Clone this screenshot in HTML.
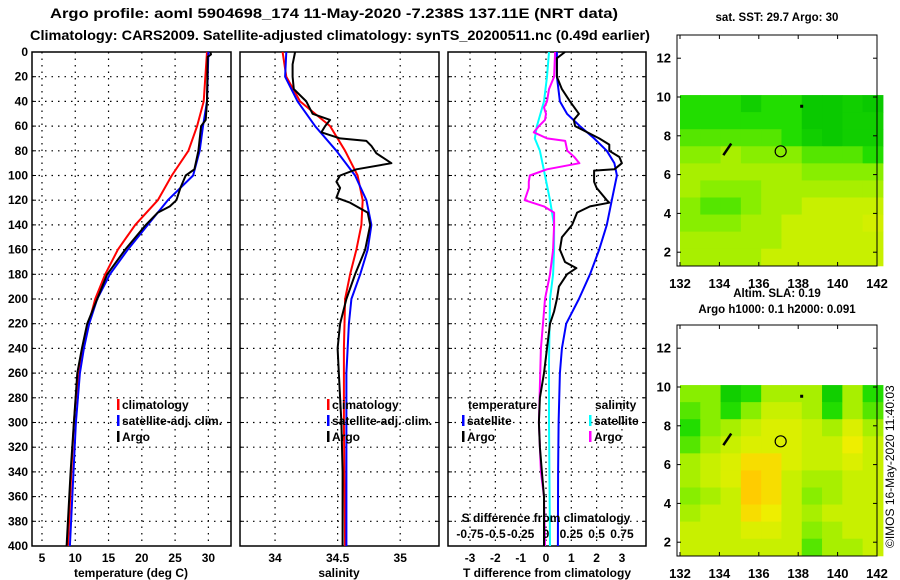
<!DOCTYPE html>
<html><head><meta charset="utf-8">
<style>
html,body{margin:0;padding:0;background:#fff;}
svg{display:block;font-family:"Liberation Sans",Arial,sans-serif;font-weight:bold;}
</style></head>
<body>
<svg id="chart" width="900" height="580" viewBox="0 0 900 580" xmlns="http://www.w3.org/2000/svg">
<text x="50" y="18" font-size="13.5" textLength="568" lengthAdjust="spacingAndGlyphs">Argo profile: aoml 5904698_174 11-May-2020 -7.238S 137.11E (NRT data)</text>
<text x="30" y="40" font-size="13.5" textLength="620" lengthAdjust="spacingAndGlyphs">Climatology: CARS2009. Satellite-adjusted climatology: synTS_20200511.nc (0.49d earlier)</text>
<g id="layer"></g>
<text x="0" y="0" font-size="12" font-weight="normal" transform="translate(894,548) rotate(-90)">©IMOS 16-May-2020 11:40:03</text>
</svg>
<script>
// ---------- profile data ----------
const tClimDepth=[0,40,60,80,100,120,140,160,180,200,220,240,260,280,300,340,400];
const tClimVal=[29.8,29.3,28.3,27,24.5,22.4,19,16.4,14.5,13,12,11.2,10.6,10.1,9.8,9.4,8.9];
const tSatDepth=[0,40,60,80,100,120,140,160,180,200,220,240,260,300,400];
const tSatVal=[30,29.8,29.2,28.7,27.7,23.9,20.9,17.9,15.2,13.3,12.1,11.3,10.7,10.1,9.2];
const tArgoDepth=[0,2,4,40,55,60,80,95,100,110,120,125,130,140,160,180,200,220,240,260,300,340,400];
const tArgoVal=[30.3,30.4,29.9,29.8,29.6,28.9,28.5,27.9,26.6,25.8,25.2,24.2,22.4,20.6,17.5,14.8,13.3,11.8,11,10.3,9.8,9.3,8.7];

const sClimDepth=[0,20,40,60,80,100,120,140,160,180,200,240,300,400];
const sClimVal=[34.06,34.09,34.2,34.44,34.56,34.66,34.7,34.69,34.65,34.6,34.56,34.55,34.55,34.56];
const sSatDepth=[0,20,40,60,80,100,120,140,160,180,200,220,260,300,400];
const sSatVal=[34.09,34.08,34.18,34.32,34.49,34.64,34.73,34.77,34.74,34.68,34.61,34.59,34.57,34.57,34.57];
const sArgoDepth=[0,10,20,30,40,50,55,60,65,70,72,76,82,90,95,100,105,110,118,122,130,140,160,180,200,220,240,280,300,340,400];
const sArgoVal=[34.16,34.14,34.14,34.15,34.25,34.3,34.44,34.4,34.37,34.52,34.73,34.77,34.81,34.93,34.65,34.52,34.49,34.52,34.49,34.6,34.74,34.76,34.72,34.64,34.57,34.52,34.5,34.52,34.53,34.54,34.54];

const dTSatDepth=[0,20,40,50,60,70,80,90,100,120,140,160,180,200,220,240,260,300,340,400];
const dTSatVal=[0.43,0.43,0.55,0.83,1.34,1.9,2.4,2.7,2.8,2.6,2.4,2.1,1.74,1.3,0.8,0.63,0.55,0.5,0.48,0.47];
const dTArgoDepth=[0,5,20,30,40,50,55,60,70,75,80,85,90,95,96,105,110,120,122,125,130,140,150,160,170,175,180,190,200,210,220,240,260,280,300,320,340,360,400];
const dTArgoVal=[0.75,0.43,0.43,0.63,0.95,1.3,1.1,1.15,2.1,2.5,2.5,2.9,3.0,2.7,1.9,1.9,2.0,2.4,2.5,1.74,1.23,1.03,0.63,0.55,0.75,1.2,0.83,0.51,0.43,0.32,0.16,0.04,-0.08,-0.24,-0.28,-0.24,-0.16,-0.08,-0.08];
const dSSatDepth=[0,20,40,60,70,80,100,120,140,160,180,200,250,300,400];
const dSSatVal=[0.03,0.01,-0.02,-0.09,-0.11,-0.06,-0.01,0.04,0.08,0.08,0.07,0.04,0.03,0.03,0.04];
const dSArgoDepth=[0,20,30,40,45,50,55,60,65,70,72,80,85,90,95,100,105,110,120,125,130,140,160,180,200,210,240,300,340,360,400];
const dSArgoVal=[0.09,0.08,0.03,0.01,-0.02,0,-0.01,-0.07,-0.12,0.01,0.19,0.21,0.28,0.33,0.01,-0.16,-0.17,-0.17,-0.21,-0.02,0.08,0.08,0.07,0.04,-0.01,-0.02,-0.05,-0.07,-0.05,-0.02,-0.01];

const depthTicks=[0,20,40,60,80,100,120,140,160,180,200,220,240,260,280,300,320,340,360,380,400];
const tTicks=[5,10,15,20,25,30];
const sTicks=[34,34.5,35];
const sTickLabels=["34","34.5","35"];
const dTTicks=[-3,-2,-1,0,1,2,3];
const dSTicks=[-0.75,-0.5,-0.25,0,0.25,0.5,0.75];
const dSTickLabels=["-0.75","-0.5","-0.25","0","0.25","0.5","0.75"];

// ---------- map data (values on a 0..5 colour scale) ----------
const sstGrid=[
[1,1,1,0.5,1,1,0.3,0.3,0.5,0.3],
[1,1,1,1,1,1,0.3,0.3,0.5,0.5],
[1.5,1.5,1.5,1.5,1.5,1,0.5,0.3,0.5,0.5],
[2,2,2.5,2,2,2,1.5,1.5,1.5,1],
[2.5,2.5,2.5,2.5,2.5,2.5,2,2,2,2],
[2.5,2,2,2,2.5,2.5,2.5,2.5,2.5,2.5],
[2,1.5,1.5,2,2.5,2.5,3,3,3,3],
[2,2,2,2.5,2.5,3,3,3,3,3.3],
[2.5,2.5,2.5,2.5,2.5,3,3,3,3,3],
[2.5,2.5,2.5,2.5,3,3,3,3,3,3]];
const slaGrid=[
[2,2,0.5,1,2.5,2.5,2.5,0.5,2.5,1],
[1.5,2,1,2,3,3,2.5,1,2.5,1.5],
[1,2,2.5,3,3.5,3.5,3,2.5,3.5,2.5],
[1.5,2.5,3,3.5,3.5,3.5,3,3,4,3],
[2.5,3,3.5,4.5,4.5,3.5,3,3,3.5,3],
[2.5,3,3.5,5,4.5,3,2.5,2.5,3,3],
[2,2.5,3,5,4.5,3,2,2.5,3,3],
[2.5,3,3,4.5,4,3,2.5,3,3,3],
[3,3,3,3.5,3.5,3,2,2.5,3,3],
[3,3,3,3,3,3,1.5,2.5,2.5,3]];
const lonTicks=[132,134,136,138,140,142];
const latTicks=[2,4,6,8,10,12];
const floatLon=137.11, floatLat=7.2;

const NS="http://www.w3.org/2000/svg";
const layer=document.getElementById('layer');
function mk(tag,attrs,parent){const e=document.createElementNS(NS,tag);for(const k in attrs)e.setAttribute(k,attrs[k]);(parent||layer).appendChild(e);return e;}

const Y0=52, YS=1.235, YB=546;
const yD=d=>Y0+d*YS;
const panels=[
 {x0:32,x1:231,lo:3.5,hi:33.4,name:'temperature-panel'},
 {x0:240,x1:439,lo:33.72,hi:35.31,name:'salinity-panel'},
 {x0:448,x1:646,lo:-3.87,hi:3.95,name:'difference-panel'}];
function sx(p,v){return p.x0+(v-p.lo)/(p.hi-p.lo)*(p.x1-p.x0);}
const dsX=v=>sx(panels[2],v*4);

function line(depths,vals,fx,color,name,w){
  const pts=depths.map((d,i)=>fx(vals[i]).toFixed(1)+','+yD(d).toFixed(1)).join(' ');
  const e=mk('polyline',{points:pts,fill:'none',stroke:color,'stroke-width':w||2,'stroke-linejoin':'round'});
  
  
}

panels.forEach((p,pi)=>{
  const g=mk('g',{});
  
  
  const ticks=pi===0?tTicks:pi===1?sTicks:dTTicks;
  // grid
  depthTicks.forEach(d=>{ if(d>0&&d<400){
    const l=mk('line',{x1:p.x0,x2:p.x1,y1:yD(d),y2:yD(d),stroke:'#000','stroke-width':1.2,'stroke-dasharray':'1.5,5'},g);
    
    }
    mk('line',{x1:p.x0,x2:p.x0+4,y1:yD(d),y2:yD(d),stroke:'#000'},g);
    mk('line',{x1:p.x1-4,x2:p.x1,y1:yD(d),y2:yD(d),stroke:'#000'},g);
  });
  ticks.forEach((t,i)=>{const x=sx(p,t);
    const l=mk('line',{x1:x,x2:x,y1:Y0,y2:YB,stroke:'#000','stroke-width':1.2,'stroke-dasharray':'1.5,5'},g);
    
    
    const tx=mk('text',{x:x,y:562,'font-size':12,'text-anchor':'middle'},g);
    tx.textContent=pi===1?sTickLabels[i]:String(t);
    
    
  });
  const fr=mk('rect',{x:p.x0,y:Y0,width:p.x1-p.x0,height:YB-Y0,fill:'none',stroke:'#000','stroke-width':1.5},g);
  
  
});
depthTicks.forEach(d=>{const t=mk('text',{x:28,y:yD(d)+4,'font-size':12,'text-anchor':'end'});t.textContent=d;
  
  });

const p0=panels[0],p1=panels[1],p2=panels[2];
line(tClimDepth,tClimVal,v=>sx(p0,v),'#f00','temperature-climatology-line');
line(tSatDepth,tSatVal,v=>sx(p0,v),'#00f','temperature-satellite-line');
line(tArgoDepth,tArgoVal,v=>sx(p0,v),'#000','temperature-argo-line');
line(sClimDepth,sClimVal,v=>sx(p1,v),'#f00','salinity-climatology-line');
line(sSatDepth,sSatVal,v=>sx(p1,v),'#00f','salinity-satellite-line');
line(sArgoDepth,sArgoVal,v=>sx(p1,v),'#000','salinity-argo-line');
line(dSSatDepth,dSSatVal,dsX,'#0ff','salinity-diff-satellite-line');
line(dSArgoDepth,dSArgoVal,dsX,'#f0f','salinity-diff-argo-line');
line(dTSatDepth,dTSatVal,v=>sx(p2,v),'#00f','temperature-diff-satellite-line');
line(dTArgoDepth,dTArgoVal,v=>sx(p2,v),'#000','temperature-diff-argo-line');

function txt(x,y,s,name,size,anchor){const t=mk('text',{x:x,y:y,'font-size':size||12,'text-anchor':anchor||'start'});t.textContent=s;
  return t;}
function legend(x,y,color,label,name){
  const r=mk('rect',{x:x,y:y-10,width:2.5,height:11,fill:color});
  
  
  txt(x+5,y,label,name);
}
legend(117,409,'#f00','climatology','legend-climatology');
legend(117,425,'#00f','satellite-adj. clim.','legend-satellite');
legend(117,441,'#000','Argo','legend-argo');
legend(327,409,'#f00','climatology','legend-climatology-2');
legend(327,425,'#00f','satellite-adj. clim.','legend-satellite-2');
legend(327,441,'#000','Argo','legend-argo-2');
txt(468,409,'temperature','legend-temperature-heading');
legend(462,425,'#00f','satellite','legend-t-satellite');
legend(462,441,'#000','Argo','legend-t-argo');
txt(595,409,'salinity','legend-salinity-heading');
legend(589,425,'#0ff','satellite','legend-s-satellite');
legend(589,441,'#f0f','Argo','legend-s-argo');
txt(546,522,'S difference from climatology','s-diff-axis-title',12,'middle');
dSTicks.forEach((v,i)=>{txt(dsX(v),538,dSTickLabels[i],'s-diff-tick-label',12,'middle');});
txt(131,577,'temperature (deg C)','x-axis-title-temperature',12,'middle');
txt(339,577,'salinity','x-axis-title-salinity',12,'middle');
txt(547,577,'T difference from climatology','x-axis-title-difference',12,'middle');

// ---------- maps ----------
const stops=[[0,192,0],[34,221,0],[136,238,0],[200,240,0],[238,238,0],[255,204,0]];
function cmap(v){const i=Math.min(4,Math.floor(v)),f=v-i;const a=stops[i],b=stops[i+1];
  return 'rgb('+a.map((c,k)=>Math.round(c+(b[k]-c)*f)).join(',')+')';}
function drawMap(grid,top,name,title,titleY){
  const g=mk('g',{});
  
  
  const lonX=l=>680+(l-132)*19.7;
  const latY=la=>top+62+(10-la)*19.4;
  const lon0=132,lon1=142.3,lat0=10.1,lat1=1.3;
  const rows=grid.length,cols=grid[0].length;
  const dLon=(lon1-lon0)/cols,dLat=(lat0-lat1)/rows;
  grid.forEach((row,r)=>row.forEach((v,c)=>{
    const x=lonX(lon0+c*dLon),y=latY(lat0-r*dLat);
    const cell=mk('rect',{x:x,y:y,width:lonX(lon0+(c+1)*dLon)-x+0.5,height:latY(lat0-(r+1)*dLat)-y+0.5,fill:cmap(v)},g);
    
    
  }));
  const island=mk('polyline',{points:[lonX(134.2)+','+latY(7.0),lonX(134.6)+','+latY(7.6)].join(' '),stroke:'#000','stroke-width':2.5,fill:'none'},g);
  
  
  const isl2=mk('rect',{x:lonX(138.1),y:latY(9.6),width:3,height:3,fill:'#000'},g);
  
  
  const circ=mk('circle',{cx:lonX(floatLon),cy:latY(floatLat),r:5.5,fill:'none',stroke:'#000','stroke-width':1.2},g);
  
  
  const fr=mk('rect',{x:677,y:top,width:200,height:231,fill:'none',stroke:'#000','stroke-width':1},g);
  
  
  latTicks.forEach(la=>{const y=latY(la);
    mk('line',{x1:677,x2:681,y1:y,y2:y,stroke:'#000'},g);
    mk('line',{x1:873,x2:877,y1:y,y2:y,stroke:'#000'},g);
    txt(671,y+4.5,String(la),'map-lat-label',13,'end');});
  lonTicks.forEach(lo=>{const x=lonX(lo);
    mk('line',{x1:x,x2:x,y1:top,y2:top+4,stroke:'#000'},g);
    mk('line',{x1:x,x2:x,y1:top+227,y2:top+231,stroke:'#000'},g);
    txt(x,top+253,String(lo),'map-lon-label',13,'middle');});
  title.forEach((t,i)=>txt(777,titleY[i],t,'map-title',11.5,'middle'));
}
drawMap(sstGrid,35,'sst-map',['sat. SST: 29.7 Argo: 30'],[21]);
drawMap(slaGrid,325,'sla-map',['Altim. SLA: 0.19','Argo h1000: 0.1 h2000: 0.091'],[297,313]);
</script>
</body></html>
